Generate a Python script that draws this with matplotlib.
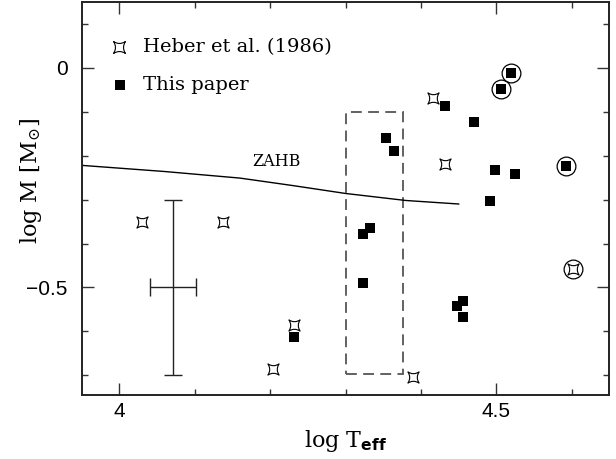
import numpy as np
import matplotlib
matplotlib.use("Agg")
import matplotlib.pyplot as plt
from matplotlib.path import Path
from matplotlib.patches import Rectangle

plt.rcParams['mathtext.fontset'] = 'custom'
plt.rcParams['mathtext.rm'] = 'DejaVu Serif'
plt.rcParams['mathtext.it'] = 'DejaVu Serif:italic'
plt.rcParams['mathtext.bf'] = 'DejaVu Sans:bold'

# Heber et al. (1986)
heber_x = [4.030, 4.138, 4.231, 4.204, 4.390, 4.416, 4.4325, 4.602]
heber_y = [-0.352, -0.351, -0.585, -0.686, -0.703, -0.068, -0.220, -0.459]

# This paper
paper_x = [4.2315, 4.353, 4.364, 4.333, 4.3225, 4.3225, 4.4315, 4.470, 4.520,
           4.506, 4.4987, 4.525, 4.592, 4.492, 4.456, 4.448, 4.456]
paper_y = [-0.613, -0.160, -0.1895, -0.365, -0.378, -0.4895, -0.086, -0.124, -0.011,
           -0.049, -0.233, -0.2425, -0.224, -0.304, -0.530, -0.542, -0.5675]

# circled objects
circ_x = [4.520, 4.506, 4.592, 4.602]
circ_y = [-0.011, -0.049, -0.224, -0.459]

# zero age horizontal branch
zahb_x = [3.95, 4.06, 4.16, 4.23, 4.30, 4.38, 4.45]
zahb_y = [-0.222, -0.236, -0.251, -0.268, -0.286, -0.302, -0.310]

# typical error
err_x, err_y = 4.071, -0.5
err_dx, err_dy = 0.03, 0.2

# dashed box
box_x0, box_x1 = 4.30, 4.376
box_y0, box_y1 = -0.697, -0.10

# 4-pointed star with concave sides
star = Path([(1, 1), (0, 0.35), (-1, 1), (-0.35, 0), (-1, -1), (0, -0.35),
             (1, -1), (0.35, 0), (1, 1), (1, 1)],
            [Path.MOVETO, Path.CURVE3, Path.CURVE3, Path.CURVE3, Path.CURVE3,
             Path.CURVE3, Path.CURVE3, Path.CURVE3, Path.CURVE3, Path.CLOSEPOLY])

fig = plt.figure(figsize=(6.16, 4.59), dpi=100)
ax = fig.add_axes([0.1326, 0.1394, 0.8568, 0.8562])

ax.plot(zahb_x, zahb_y, color='black', lw=1.0)
ax.text(4.208, -0.213, 'ZAHB', fontsize=11.5, family='DejaVu Serif', ha='center', va='center')

ax.add_patch(Rectangle((box_x0, box_y0), box_x1 - box_x0, box_y1 - box_y0,
                       fill=False, edgecolor='#555555', lw=1.3, ls=(0, (6, 3.5))))

ax.errorbar([err_x], [err_y], xerr=err_dx, yerr=err_dy, fmt='none',
            ecolor='#222222', elinewidth=1.0, capsize=6.5, capthick=1.0)

ax.plot(heber_x, heber_y, ls='none', marker=star, markersize=8,
        markerfacecolor='white', markeredgecolor='black', markeredgewidth=0.8)
ax.plot(paper_x, paper_y, ls='none', marker='s', markersize=7.3,
        markerfacecolor='black', markeredgecolor='black', markeredgewidth=0)
ax.plot(circ_x, circ_y, ls='none', marker='o', markersize=13.5,
        markerfacecolor='none', markeredgecolor='black', markeredgewidth=0.9)

# legend drawn by hand
ax.plot([0.0707], [0.885], transform=ax.transAxes, ls='none', marker=star, markersize=8.5,
        markerfacecolor='white', markeredgecolor='black', markeredgewidth=0.8)
ax.plot([0.072], [0.788], transform=ax.transAxes, ls='none', marker='s', markersize=7.3,
        markerfacecolor='black', markeredgewidth=0)
ax.text(0.1156, 0.885, 'Heber et al. (1986)', transform=ax.transAxes, fontsize=14,
        family='DejaVu Serif', va='center')
ax.text(0.1156, 0.788, 'This paper', transform=ax.transAxes, fontsize=14,
        family='DejaVu Serif', va='center')

ax.set_xlim(3.95, 4.65)
ax.set_ylim(-0.745, 0.15)
ax.set_xticks([4.0, 4.5])
ax.set_xticklabels(['4', '4.5'])
ax.set_xticks(np.arange(4.0, 4.65, 0.1), minor=True)
ax.set_yticks([0.0, -0.5])
ax.set_yticklabels(['0', '\u22120.5'])
ax.set_yticks(np.arange(-0.7, 0.15, 0.1), minor=True)

ax.tick_params(which='both', direction='in', top=True, right=True, width=1.0, color='#333333')
ax.tick_params(which='major', length=8.5)
ax.tick_params(which='minor', length=4)
ax.tick_params(axis='x', which='major', pad=5, labelsize=15)
ax.tick_params(axis='y', which='major', pad=10, labelsize=15)
for lab in ax.get_xticklabels() + ax.get_yticklabels():
    lab.set_family('Liberation Sans')
for sp in ax.spines.values():
    sp.set_linewidth(1.4)
    sp.set_color('#222222')

ax.set_xlabel(r'log $\mathrm{T}_{\mathbf{eff}}$', fontsize=16, family='DejaVu Serif')
ax.set_ylabel(r'log M [$\mathrm{M}_{\odot}$]', fontsize=16, family='DejaVu Serif')
ax.xaxis.set_label_coords(0.5, -0.084)
ax.yaxis.set_label_coords(-0.071, 0.545)

fig.savefig('out.png', dpi=100)
